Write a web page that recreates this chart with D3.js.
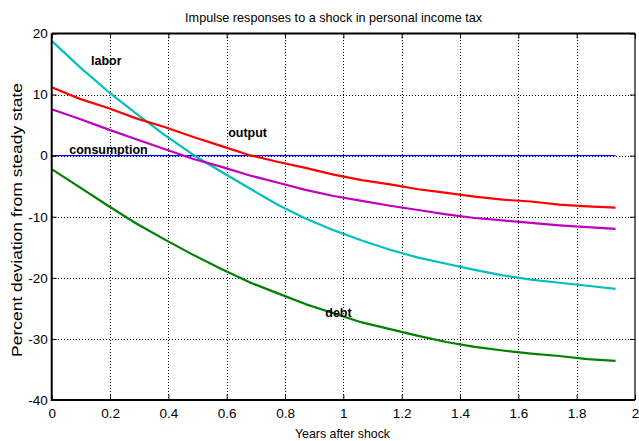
<!DOCTYPE html>
<html>
<head>
<meta charset="utf-8">
<script src="https://cdn.jsdelivr.net/npm/d3@7"></script>
<style>
  html, body { margin: 0; padding: 0; background: #fff; }
  svg { display: block; font-family: "Liberation Sans", Arial, sans-serif; }
</style>
</head>
<body>
<svg id="chart" width="639" height="441"></svg>
<script>
// Impulse responses (percent deviation from steady state), sampled every 29/300 of a year
const nPoints = 21;
const years = d3.range(nPoints).map(i => i * 29 / 300);

const labor = [18.8, 14.5, 10.5, 6.9, 3.4, 0.2, -2.6, -5.3, -8.0, -10.3, -12.2,
               -13.9, -15.4, -16.7, -17.7, -18.7, -19.6, -20.3, -20.8, -21.3, -21.8];
const output = [11.2, 9.3, 7.8, 6.1, 4.7, 3.1, 1.6, 0.1, -1.0, -2.0, -3.1,
                -4.0, -4.7, -5.5, -6.1, -6.7, -7.2, -7.5, -8.0, -8.3, -8.5];
const consumption = [7.6, 6.0, 4.3, 2.7, 1.1, -0.5, -1.8, -3.2, -4.4, -5.6, -6.6,
                     -7.4, -8.2, -8.9, -9.6, -10.2, -10.6, -11.0, -11.4, -11.7, -12.0];
const debt = [-2.2, -5.2, -8.2, -11.1, -13.7, -16.2, -18.5, -20.7, -22.5, -24.3, -25.8,
              -27.3, -28.4, -29.5, -30.5, -31.3, -31.9, -32.4, -32.8, -33.3, -33.6];
const steadyState = years.map(() => 0);

const xTicks = [0, 0.2, 0.4, 0.6, 0.8, 1, 1.2, 1.4, 1.6, 1.8, 2];
const yTicks = [20, 10, 0, -10, -20, -30, -40];

const titleText = "Impulse responses to a shock in personal income tax";
const xLabel = "Years after shock";
const yLabel = "Percent deviation from steady state";

const series = [
  { name: "steady", values: steadyState, color: "#0000ff", width: 1.4 },
  { name: "labor", values: labor, color: "#00bfbf", width: 2.2 },
  { name: "output", values: output, color: "#ff0000", width: 2.2 },
  { name: "consumption", values: consumption, color: "#bf00bf", width: 2.2 },
  { name: "debt", values: debt, color: "#008000", width: 2.2 }
];

// In-plot annotations: label text anchored at a data position
const annotations = [
  { text: "labor", t: 0.135, v: 14.8 },
  { text: "output", t: 0.605, v: 3.0 },
  { text: "consumption", t: 0.06, v: 0.2 },
  { text: "debt", t: 0.938, v: -26.4 }
];

const svg = d3.select("#chart");
const plotLeft = 51.7, plotRight = 635, plotTop = 33.5, plotBottom = 400;

const x = d3.scaleLinear().domain([0, 2]).range([plotLeft, plotRight]);
const y = d3.scaleLinear().domain([-40, 20]).range([plotBottom, plotTop]);

// Dotted grid
const grid = svg.append("g").attr("stroke", "#000").attr("stroke-width", 1)
  .attr("stroke-dasharray", "1.2,1.8").attr("shape-rendering", "crispEdges");
grid.selectAll("line.gx").data(xTicks.filter(d => d > 0 && d < 2)).join("line")
  .attr("class", "gx")
  .attr("x1", d => Math.round(x(d)) + 0.5).attr("x2", d => Math.round(x(d)) + 0.5)
  .attr("y1", plotTop).attr("y2", plotBottom);
grid.selectAll("line.gy").data(yTicks.filter(d => d > -40 && d < 20)).join("line")
  .attr("class", "gy")
  .attr("y1", d => Math.round(y(d)) + 0.5).attr("y2", d => Math.round(y(d)) + 0.5)
  .attr("x1", plotLeft).attr("x2", plotRight);

// Response lines
const line = d3.line().x((d, i) => x(years[i])).y(d => y(d));
svg.append("g").selectAll("path").data(series).join("path")
  .attr("d", d => line(d.values))
  .attr("fill", "none")
  .attr("stroke", d => d.color)
  .attr("stroke-width", d => d.width)
  .attr("stroke-linejoin", "round");

// Axes with inward ticks on all four sides
const tickLen = 5;
const plainNumber = d => String(d);
const axisBottom = d3.axisBottom(x).tickValues(xTicks).tickSizeInner(-tickLen).tickSizeOuter(0)
  .tickPadding(8).tickFormat(plainNumber);
const axisLeft = d3.axisLeft(y).tickValues(yTicks).tickSizeInner(-tickLen).tickSizeOuter(0)
  .tickPadding(4).tickFormat(plainNumber);
const axisTop = d3.axisTop(x).tickValues(xTicks).tickSizeInner(-tickLen).tickSizeOuter(0).tickFormat("");
const axisRight = d3.axisRight(y).tickValues(yTicks).tickSizeInner(-tickLen).tickSizeOuter(0).tickFormat("");

function styleAxis(g) {
  g.select(".domain").remove();
  g.selectAll(".tick line").attr("stroke", "#000").attr("stroke-width", 1);
  g.selectAll(".tick text").attr("fill", "#000").attr("font-size", 13.5)
    .attr("font-family", "'Liberation Sans', Arial, sans-serif");
}
svg.append("g").attr("transform", `translate(0,${plotBottom})`).call(axisBottom).call(styleAxis);
svg.append("g").attr("transform", `translate(${plotLeft},0)`).call(axisLeft).call(styleAxis);
svg.append("g").attr("transform", `translate(0,${plotTop})`).call(axisTop).call(styleAxis);
svg.append("g").attr("transform", `translate(${plotRight},0)`).call(axisRight).call(styleAxis);

// Plot frame
svg.append("path")
  .attr("d", `M${plotLeft},${plotTop}H${plotRight}`).attr("stroke", "#000").attr("stroke-width", 2);
svg.append("path")
  .attr("d", `M${plotLeft},${plotTop}V${plotBottom}H${plotRight}`).attr("fill", "none")
  .attr("stroke", "#000").attr("stroke-width", 2);
svg.append("path")
  .attr("d", `M${plotRight},${plotTop}V${plotBottom}`).attr("stroke", "#000").attr("stroke-width", 1.2);

// Annotations
svg.append("g").selectAll("text").data(annotations).join("text")
  .attr("x", d => x(d.t)).attr("y", d => y(d.v))
  .attr("font-size", 12.5).attr("font-weight", "bold").attr("fill", "#000")
  .text(d => d.text);

// Title and axis labels
svg.append("text").attr("x", 333.6).attr("y", 21.5).attr("text-anchor", "middle")
  .attr("font-size", 13).attr("textLength", 297).attr("lengthAdjust", "spacingAndGlyphs")
  .text(titleText);
svg.append("text").attr("x", 342.5).attr("y", 438).attr("text-anchor", "middle")
  .attr("font-size", 13).attr("textLength", 95).attr("lengthAdjust", "spacingAndGlyphs")
  .text(xLabel);
svg.append("text").attr("transform", "translate(22,220) rotate(-90)").attr("text-anchor", "middle")
  .attr("font-size", 14.5).attr("textLength", 274).attr("lengthAdjust", "spacingAndGlyphs")
  .text(yLabel);
</script>
</body>
</html>
